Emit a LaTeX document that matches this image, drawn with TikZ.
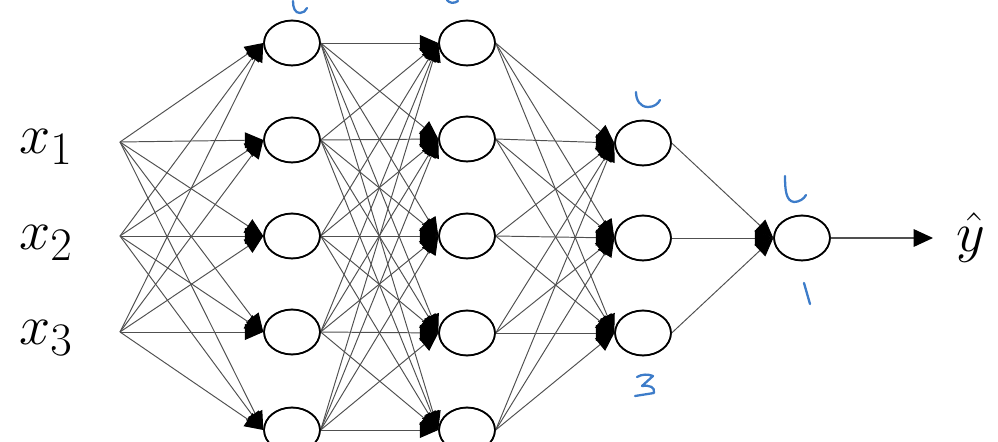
\documentclass[tikz,border=0pt]{standalone}
\usepackage{graphicx}
\usepackage{amsmath}
\usetikzlibrary{shapes.geometric,arrows.meta}
\definecolor{inkblue}{HTML}{3D7CC9}
\definecolor{wire}{HTML}{505050}
\newcommand{\biglbl}[1]{\scalebox{1.28}{\Huge$#1$}}
\tikzset{
  neuron/.style={ellipse,draw=black,line width=0.9pt,fill=white,inner sep=0pt,minimum width=56*0.567pt,minimum height=45*0.567pt},
  link/.style={draw=wire,line width=0.55pt,-{Triangle[length=10.5pt,width=9pt,color=black,fill=black]}},
  outarrow/.style={draw=wire,line width=0.7pt,-{Triangle[length=11pt,width=10pt,color=black,fill=black]}},
  handmark/.style={draw=inkblue,line width=1.3pt,line cap=round,line join=round},
  lbl/.style={inner sep=0pt}
}
\begin{document}
\begin{tikzpicture}[x=0.02cm,y=-0.02cm]
\useasboundingbox (0,0) rectangle (998,442);
% inputs
\coordinate (i1) at (120,142);
\coordinate (i2) at (120,236);
\coordinate (i3) at (120,332);
\node[lbl,anchor=base west] (x1) at (19,154) {\biglbl{x_1}};
\node[lbl,anchor=base west] (x2) at (19,250) {\biglbl{x_2}};
\node[lbl,anchor=base west] (x3) at (19,345) {\biglbl{x_3}};
% layer 1
\foreach \n/\y in {1/43,2/140,3/236,4/332,5/430}{\node[neuron] (a\n) at (292,\y) {};}
% layer 2
\foreach \n/\y in {1/43,2/139,3/236,4/333,5/430}{\node[neuron] (b\n) at (467,\y) {};}
% layer 3
\foreach \n/\y in {1/143,2/238,3/333}{\node[neuron] (c\n) at (643,\y) {};}
% output
\node[neuron] (o) at (802,238) {};
\coordinate (tip) at (933,238);
\node[lbl,anchor=center] (yhat) at (971,238) {\biglbl{\hat{y}}};
% connections
\foreach \i in {1,2,3}{\foreach \j in {1,...,5}{\draw[link] (i\i) -- (a\j.west);}}
\foreach \i in {1,...,5}{\foreach \j in {1,...,5}{\draw[link] (a\i.east) -- (b\j.west);}}
\foreach \i in {1,...,5}{\foreach \j in {1,2,3}{\draw[link] (b\i.east) -- (c\j.west);}}
\foreach \i in {1,2,3}{\draw[link] (c\i.east) -- (o.west);}
\draw[outarrow] (o.east) -- (tip);
% redraw neuron outlines on top
\foreach \n/\y in {1/43,2/140,3/236,4/332,5/430}{\draw[line width=0.9pt] (292,\y) ellipse (28 and 22.5);}
\foreach \n/\y in {1/43,2/139,3/236,4/333,5/430}{\draw[line width=0.9pt] (467,\y) ellipse (28 and 22.5);}
\foreach \n/\y in {1/143,2/238,3/333}{\draw[line width=0.9pt] (643,\y) ellipse (28 and 22.5);}
\draw[line width=0.9pt] (802,238) ellipse (28 and 22.5);
% handwritten marks
\draw[handmark] (293,1) .. controls (293,8) and (295,13) .. (300,13) .. controls (303,13) and (306,11) .. (307,8);
\draw[handmark] (447,0) .. controls (449,3) and (454,4) .. (458,1);
\draw[handmark] (636,92) .. controls (636,100) and (640,107) .. (648,107) .. controls (654,107) and (658,104) .. (660,100);
\draw[handmark] (785,176) .. controls (785,190) and (786,201) .. (794,202) .. controls (799,202) and (804,199) .. (806,195);
\draw[handmark] (804,283) -- (810,304);
\draw[handmark] (637,377) .. controls (642,374) and (648,374) .. (653,376) -- (642,386) .. controls (650,385) and (655,387) .. (654,393) -- (635,396);
\end{tikzpicture}
\end{document}
